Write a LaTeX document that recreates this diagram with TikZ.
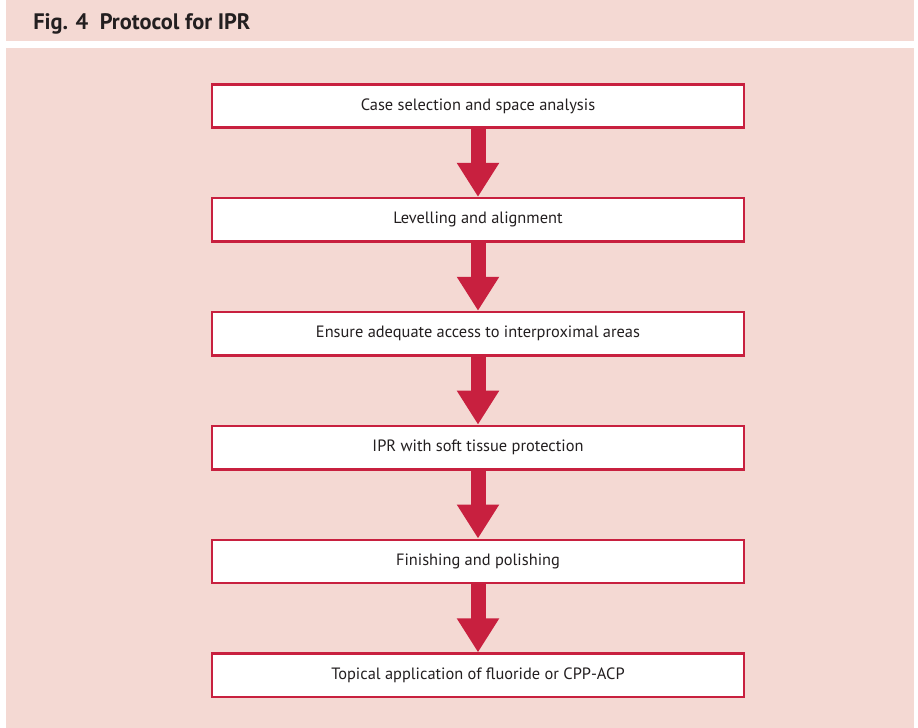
\documentclass[tikz,border=0pt]{standalone}
\usepackage{fontspec}
\setmainfont{PT Sans}
\usetikzlibrary{positioning,arrows.meta}
\definecolor{iprred}{HTML}{C8203F}
\definecolor{iprpink}{HTML}{F4D9D3}
\definecolor{ipringk}{HTML}{231F20}
\tikzset{
  stepbox/.style={draw=iprred, line width=1.9pt, fill=white, minimum width=399pt,
    minimum height=32.5pt, inner sep=0pt, text=ipringk, font=\fontsize{12.3}{14}\selectfont},
  flowarrow/.style={draw=iprred, line width=11.25pt,
    -{Triangle[width=30pt 0 0,length=25.5pt 0 0]}, shorten <=-0.5pt}
}
\begin{document}
\begin{tikzpicture}[x=0.75pt,y=-0.75pt]
\useasboundingbox (0,0) rectangle (918,728);
% background
\fill[iprpink] (6,0) rectangle (914,41);
\fill[iprpink] (6,48) rectangle (914,728);
\node[anchor=base west, inner sep=0pt, font=\fontsize{16.8}{20}\selectfont\bfseries, text=ipringk] (title) at (33,29) {Fig. 4\ \ Protocol for IPR};
% steps
\node[stepbox] (case) at (478,106) {Case selection and space analysis};
\node[stepbox, below=51pt of case] (level) {Levelling and alignment};
\node[stepbox, below=51pt of level] (access) {Ensure adequate access to interproximal areas};
\node[stepbox, below=51pt of access] (ipr) {IPR with soft tissue protection};
\node[stepbox, below=51pt of ipr] (finish) {Finishing and polishing};
\node[stepbox, below=51pt of finish] (topical) {Topical application of fluoride or CPP-ACP};
% arrows
\draw[flowarrow] (case) -- (level);
\draw[flowarrow] (level) -- (access);
\draw[flowarrow] (access) -- (ipr);
\draw[flowarrow] (ipr) -- (finish);
\draw[flowarrow] (finish) -- (topical);
\end{tikzpicture}
\end{document}
